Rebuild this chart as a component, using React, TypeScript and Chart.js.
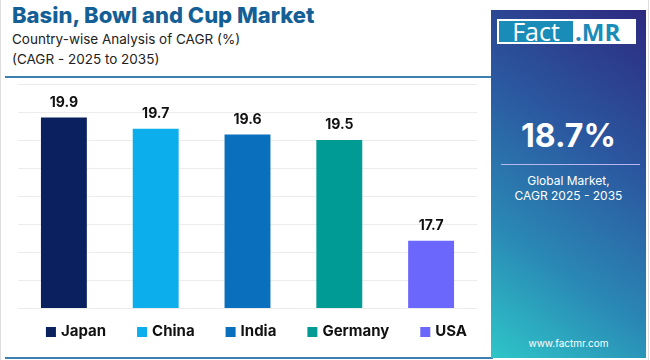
import React, { useEffect, useRef } from "react";
import { Chart, registerables } from "chart.js";

Chart.register(...registerables);

const countries = ["Japan", "China", "India", "Germany", "USA"];
const cagrValues = [19.9, 19.7, 19.6, 19.5, 17.7];
const barColors = ["#0b215f", "#0daeec", "#0a6fbd", "#009b95", "#6b66fc"];
const axisMin = 16.5;
const axisMax = 20.5;
const axisStep = 0.5;

const FONT = "Inter, 'DejaVu Sans', sans-serif";

const valueLabels = {
  id: "valueLabels",
  afterDatasetsDraw(chart: any) {
    const ctx = chart.ctx;
    const meta = chart.getDatasetMeta(0);
    ctx.save();
    ctx.font = `700 14px ${FONT}`;
    ctx.fillStyle = "#111";
    ctx.textAlign = "center";
    ctx.textBaseline = "middle";
    meta.data.forEach((bar: any, i: number) => {
      ctx.fillText(cagrValues[i].toFixed(1), bar.x, bar.y - 15);
    });
    ctx.restore();
  },
};

const bottomLegend = {
  id: "bottomLegend",
  afterDraw(chart: any) {
    const ctx = chart.ctx;
    const box = 10;
    const boxGap = 5;
    const itemGap = 31;
    ctx.save();
    ctx.font = `700 15px ${FONT}`;
    const widths = countries.map((c) => box + boxGap + ctx.measureText(c).width);
    const total = widths.reduce((a, b) => a + b, 0) + itemGap * (countries.length - 1);
    const centerX = (chart.chartArea.left + chart.chartArea.right) / 2 + 9;
    const y = chart.chartArea.bottom + 23;
    let x = centerX - total / 2;
    ctx.textBaseline = "middle";
    ctx.textAlign = "left";
    countries.forEach((c, i) => {
      ctx.fillStyle = barColors[i];
      ctx.fillRect(x, y - box / 2 + 1, box, box);
      ctx.fillStyle = "#111";
      ctx.fillText(c, x + box + boxGap, y);
      x += widths[i] + itemGap;
    });
    ctx.restore();
  },
};

export default function App() {
  const ref = useRef<HTMLCanvasElement | null>(null);

  useEffect(() => {
    document.body.style.margin = "0";
    if (!ref.current) return;
    const chart = new Chart(ref.current, {
      type: "bar",
      data: {
        labels: countries,
        datasets: [
          {
            data: cagrValues,
            backgroundColor: barColors,
            barPercentage: 0.5,
            categoryPercentage: 1,
          },
        ],
      },
      plugins: [valueLabels, bottomLegend],
      options: {
        animation: false,
        responsive: false,
        maintainAspectRatio: false,
        layout: { padding: { top: 6, left: 18, right: 13, bottom: 50 } },
        plugins: {
          tooltip: { enabled: false },
          legend: { display: false },
        },
        scales: {
          x: { display: false, grid: { display: false } },
          y: {
            position: "left",
            min: axisMin,
            max: axisMax,
            ticks: { display: false, stepSize: axisStep },
            border: { display: false },
            grid: { color: "#ececec", drawTicks: false },
            afterFit: (scale: any) => {
              scale.width = 0;
            },
          },
        },
      },
    });
    return () => chart.destroy();
  }, []);

  return (
    <div
      style={{
        position: "fixed",
        left: 0,
        top: 0,
        width: 650,
        height: 360,
        background: "#fff",
        overflow: "hidden",
        fontFamily: FONT,
      }}
    >
      <div style={{ position: "absolute", left: 0, top: 0, width: 1, height: 360, background: "#ddd" }} />
      <div style={{ position: "absolute", left: 648, top: 0, width: 1, height: 360, background: "#ddd" }} />
      <div
        style={{
          position: "absolute",
          left: 12,
          top: 2,
          fontSize: 22,
          fontWeight: 800,
          color: "#145f95",
          whiteSpace: "nowrap",
        }}
      >
        Basin, Bowl and Cup Market
      </div>
      <div
        style={{
          position: "absolute",
          left: 12,
          top: 29,
          fontSize: 13.5,
          color: "#222",
          lineHeight: "20px",
          whiteSpace: "nowrap",
        }}
      >
        Country-wise Analysis of CAGR (%)
        <br />
        (CAGR - 2025 to 2035)
      </div>
      <div style={{ position: "absolute", left: 5, top: 76, width: 488, height: 2, background: "#3f7fae" }} />
      <div style={{ position: "absolute", left: 5, top: 357, width: 488, height: 2, background: "#3f7fae" }} />
      <canvas
        ref={ref}
        width={490}
        height={280}
        style={{ position: "absolute", left: 0, top: 78, width: 490, height: 280 }}
      />
      <div
        style={{
          position: "absolute",
          left: 491,
          top: 10,
          width: 155,
          height: 348,
          background: "linear-gradient(35deg, #2ec6c8 0%, #2a88b5 30%, #2b58a0 62%, #2d2a7f 100%)",
        }}
      >
        <div
          style={{
            position: "absolute",
            left: 6,
            top: 9,
            width: 139,
            height: 25,
            background: "#fff",
            overflow: "hidden",
          }}
        >
          <div
            style={{
              position: "absolute",
              left: 2,
              top: 2,
              width: 74,
              height: 21,
              background: "#1a8cb8",
              overflow: "hidden",
              display: "flex",
              alignItems: "center",
              justifyContent: "center",
            }}
          >
            <span
              style={{
                color: "#fff",
                fontSize: 25,
                lineHeight: "25px",
                fontFamily: "'Open Sans', sans-serif",
                marginTop: -1,
              }}
            >
              Fact
            </span>
          </div>
          <div
            style={{
              position: "absolute",
              left: 78,
              top: 0,
              height: 25,
              display: "flex",
              alignItems: "center",
            }}
          >
            <span
              style={{
                color: "#1a8cb8",
                fontSize: 24,
                fontWeight: 700,
                lineHeight: "25px",
                fontFamily: "'Open Sans', sans-serif",
              }}
            >
              .MR
            </span>
          </div>
        </div>
        <div
          style={{
            position: "absolute",
            left: 0,
            top: 106,
            width: 155,
            textAlign: "center",
            color: "#fff",
            fontSize: 32,
            fontWeight: 700,
          }}
        >
          18.7%
        </div>
        <div style={{ position: "absolute", left: 10, top: 154, width: 139, height: 1, background: "#b9b6f0" }} />
        <div
          style={{
            position: "absolute",
            left: 0,
            top: 163,
            width: 155,
            textAlign: "center",
            color: "#fff",
            fontSize: 12,
            lineHeight: "15px",
          }}
        >
          Global Market,
          <br />
          CAGR 2025 - 2035
        </div>
        <div
          style={{
            position: "absolute",
            left: 0,
            top: 327,
            width: 155,
            textAlign: "center",
            color: "#fff",
            fontSize: 10,
          }}
        >
          www.factmr.com
        </div>
      </div>
    </div>
  );
}
